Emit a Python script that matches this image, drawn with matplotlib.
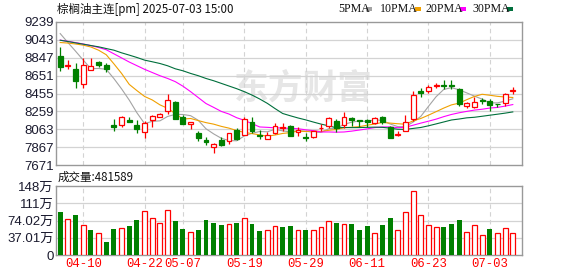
import numpy as np
import pandas as pd
import matplotlib
matplotlib.use("Agg")
import matplotlib.pyplot as plt
from matplotlib.patches import Rectangle

# daily candles, 04-07 .. 07-03 (60 sessions)
opens = [8868, 8755, 8723, 8555, 8708, 8803, 8763, 8110, 8107, 8169,
         8110, 8030, 8162, 8194, 8260, 8358, 8202, 8122, 8020, 7950,
         7870, 7950, 7932, 8056, 8001, 8144, 8001, 7958, 8020, 8074,
         8100, 8038, 7983, 7983, 8074, 8100, 8154, 8111, 8187, 8165,
         8165, 8129, 8194, 8093, 7998, 8045, 8180, 8486, 8482, 8540,
         8551, 8551, 8500, 8322, 8311, 8388, 8369, 8345, 8355, 8486]
highs = [8960, 8821, 8792, 8839, 8839, 8814, 8785, 8176, 8209, 8202,
         8165, 8154, 8220, 8238, 8449, 8377, 8220, 8147, 8045, 7976,
         7907, 7983, 8027, 8074, 8194, 8202, 8056, 8038, 8136, 8133,
         8107, 8085, 8027, 8045, 8118, 8202, 8176, 8253, 8202, 8165,
         8176, 8194, 8213, 8100, 8045, 8220, 8486, 8511, 8544, 8573,
         8599, 8599, 8511, 8366, 8413, 8409, 8391, 8345, 8464, 8529]
lows = [8704, 8726, 8518, 8518, 8708, 8748, 8686, 8049, 8085, 8140,
        8020, 7972, 8093, 8194, 8234, 8180, 8125, 8063, 7929, 7885,
        7808, 7874, 7896, 7947, 8001, 8020, 7961, 7954, 8009, 8045,
        7990, 7990, 7929, 7972, 8045, 8074, 8038, 8074, 8100, 8085,
        8085, 8122, 8118, 7965, 7990, 8045, 8154, 8413, 8464, 8511,
        8508, 8508, 8318, 8293, 8293, 8340, 8267, 8304, 8318, 8449]
closes = [8748, 8770, 8595, 8766, 8755, 8763, 8723, 8085, 8202, 8140,
          8067, 8129, 8213, 8227, 8380, 8180, 8125, 8147, 7972, 7918,
          7899, 7885, 8020, 7961, 8180, 8045, 7987, 8001, 8100, 8093,
          7990, 8056, 7969, 8045, 8082, 8191, 8074, 8194, 8160, 8155,
          8147, 8183, 8147, 7972, 8012, 8140, 8435, 8457, 8522, 8544,
          8540, 8533, 8340, 8351, 8366, 8377, 8330, 8336, 8449, 8493]

# volume in 万手
volumes = [92.3, 76.5, 85.8, 63.6, 53.6, 46.5, 27.9, 55.8, 57.2, 62.2,
           75.1, 93.7, 78.7, 68.6, 95.8, 72.9, 55.8, 49.3, 53.6, 75.1,
           69.4, 64.3, 66.5, 69.4, 78.7, 66.5, 51.5, 53.6, 61.5, 60.1,
           62.2, 52.9, 53.6, 52.9, 59.4, 72.2, 68.6, 65.8, 66.5, 53.6,
           62.2, 47.2, 64.3, 79.4, 52.9, 91.5, 136.6, 85.1, 63.6, 59.4,
           60.1, 66.5, 75.1, 49.3, 63.6, 42.2, 55.8, 47.2, 57.2, 48.1589]

# moving-average values before a full window exists
ma5_head = [9112, 9014, 8919, 8821]
ma10_head = [9014, 9008, 8998, 8985, 8965, 8930, 8880, 8780, 8675]
ma20_head = [9040, 9027, 9013, 8998, 8980, 8960, 8935, 8890, 8845, 8800,
             8760, 8720, 8685, 8650, 8620, 8585, 8535, 8475, 8410]
ma30_head = [9039, 9025, 9010, 8996, 8981, 8967, 8948, 8930, 8901, 8876,
             8850, 8821, 8803, 8784, 8759, 8726, 8704, 8675, 8650, 8620,
             8595, 8566, 8537, 8508, 8475, 8438, 8395, 8347, 8290]

tick_idx = [3, 11, 16, 24, 32, 40, 48, 56]
tick_labels = ["04-10", "04-22", "05-07", "05-19", "05-29", "06-11", "06-23", "07-03"]
price_ticks = [7671, 7867, 8063, 8259, 8455, 8651, 8847, 9043, 9239]
vol_ticks = [0, 37.01, 74.02, 111.03, 148.04]
vol_tick_labels = ["0", "37.01万", "74.02万", "111万", "148万"]

RED = "#ff0000"
GREEN = "#008000"
GRID = "#d3d3d3"
BORDER = "#999999"
ma_colors = {"5PMA": "#a3a3a3", "10PMA": "#f0a000", "20PMA": "#ff00ff", "30PMA": "#006f3c"}

c = pd.Series(closes, dtype=float)
ma = {}
for name, n, head in [("5PMA", 5, ma5_head), ("10PMA", 10, ma10_head),
                      ("20PMA", 20, ma20_head), ("30PMA", 30, ma30_head)]:
    s = c.rolling(n).mean()
    s.iloc[:n - 1] = head
    ma[name] = s.values

W, H = 578, 276
fig = plt.figure(figsize=(W / 100, H / 100), dpi=100)
ax = fig.add_axes([56 / W, 1 - 165 / H, 466 / W, 143 / H])
axv = fig.add_axes([56 / W, 1 - 255 / H, 466 / W, 69 / H])

n = len(closes)
x = np.arange(n)
xlim = (-0.55, 60.2)
bw = 0.64

# watermark
ax.text(0.53, 0.54, "东方财富", transform=ax.transAxes, ha="center", va="center",
        fontsize=25, fontweight="bold", color="#e6e6e6", family=["Noto Sans CJK SC"], zorder=0)

for a in (ax, axv):
    a.set_xlim(*xlim)
    for s in a.spines.values():
        s.set_color(BORDER)
        s.set_linewidth(1.0)
    for t in tick_idx:
        a.axvline(t, color=GRID, lw=0.8, ls=(0, (4, 3)), zorder=0.5)
    a.set_xticks([])
    a.tick_params(axis="y", length=0, pad=1.5, labelsize=9.5, labelcolor="#1a1a2e")

# price panel
ax.set_ylim(price_ticks[0], price_ticks[-1])
ax.set_yticks(price_ticks)
ax.set_yticklabels([str(v) for v in price_ticks], family="Liberation Sans")
for v in price_ticks[1:-1]:
    ax.axhline(v, color=GRID, lw=0.9, zorder=0.5)

for i in range(n):
    o, h, l, cl = opens[i], highs[i], lows[i], closes[i]
    col = RED if cl >= o else GREEN
    ax.vlines(i, l, h, color=col, lw=0.9, zorder=3)
    bot, top = min(o, cl), max(o, cl)
    if top - bot < 4:
        top = bot + 4
    face = "white" if cl >= o else GREEN
    ax.add_patch(Rectangle((i - bw / 2, bot), bw, top - bot, facecolor=face,
                           edgecolor=col, lw=0.9, zorder=4))

for name, vals in ma.items():
    ax.plot(x, vals, color=ma_colors[name], lw=0.8, zorder=2)

# volume panel
axv.set_ylim(0, vol_ticks[-1])
axv.set_yticks(vol_ticks)
axv.set_yticklabels(vol_tick_labels, family=["Liberation Sans", "Noto Sans CJK SC"])
for v in vol_ticks[1:-1]:
    axv.axhline(v, color=GRID, lw=0.9, zorder=0.5)

prev = [opens[0]] + closes[:-1]
for i in range(n):
    up = closes[i] >= prev[i]
    if up:
        axv.bar(i, volumes[i], width=bw, facecolor="white", edgecolor=RED, lw=0.9, zorder=3)
    else:
        axv.bar(i, volumes[i], width=bw, color=GREEN, lw=0, zorder=3)

for t, lab in zip(tick_idx, tick_labels):
    axv.text(t, -6, lab, ha="center", va="top", color=RED, fontsize=8.8,
             family="Liberation Mono")

# header texts
fig.text(57 / W, 1 - 9 / H, "棕榈油主连[pm] 2025-07-03 15:00", ha="left", va="center",
         fontsize=8.3, color="#111111", family=["Noto Sans CJK SC", "DejaVu Sans"])
fig.text(58 / W, 1 - 177 / H, "成交量:481589", ha="left", va="center",
         fontsize=8.3, color="#111111", family=["Noto Sans CJK SC", "DejaVu Sans"])

lx = [338, 380, 425, 472]
for (name, col), px in zip(ma_colors.items(), lx):
    fig.text(px / W, 1 - 9 / H, name, ha="left", va="center", fontsize=8.6,
             color="#111111", family="Liberation Serif")
    w = 25 if name == "5PMA" else 32
    fig.patches.append(Rectangle(((px + w + 3) / W, 1 - 11 / H), 6 / W, 4 / H,
                                 facecolor=col, edgecolor="none", transform=fig.transFigure))

fig.savefig("out.png", dpi=100, facecolor="white")
